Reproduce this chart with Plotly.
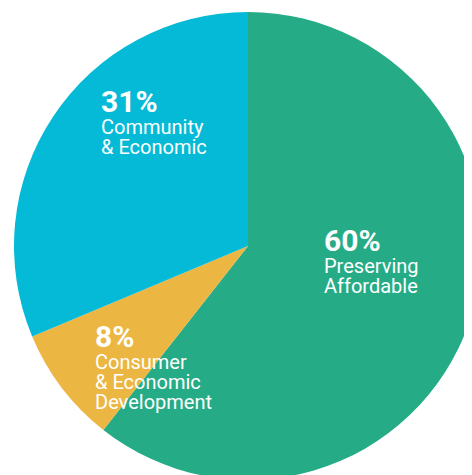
import plotly.graph_objects as go

labels = ["Preserving Affordable", "Consumer & Economic Development", "Community & Economic"]
values = [60, 8, 31]
colors = ["#25AC87", "#EBB642", "#04BAD7"]
label_lines = [["Preserving", "Affordable"], ["Consumer", "& Economic", "Development"], ["Community", "& Economic"]]

# page body has an 8px margin; figure coordinates are offset accordingly
OFF = 8
W, H = 474, 472

fig = go.Figure(go.Pie(
    labels=labels, values=values, sort=False, direction="clockwise", rotation=0,
    marker=dict(colors=colors, line=dict(width=0)),
    textinfo="none", hoverinfo="label+percent", showlegend=False,
    domain=dict(x=[6 / W, 1], y=[0, 1 - 4 / H]),
))

# text anchors in screenshot px: (left x, percent baseline y)
anchors = [(323, 250), (94, 346), (100, 111)]
ann = []
for (x, yb), v, lines in zip(anchors, values, label_lines):
    xf = (x - OFF - 1) / W
    ann.append(dict(x=xf, y=1 - (yb - 10 - OFF) / H, xref="paper", yref="paper",
                    xanchor="left", yanchor="middle", showarrow=False,
                    text=f"{v}%", font=dict(family="Roboto", size=30, color="white", weight=700)))
    for i, t in enumerate(lines):
        b = yb + 23 + 20 * i
        ann.append(dict(x=xf, y=1 - (b - 7 - OFF) / H, xref="paper", yref="paper",
                        xanchor="left", yanchor="middle", showarrow=False,
                        text=t, font=dict(family="Roboto", size=20, color="white")))

fig.update_layout(width=W, height=H, margin=dict(l=0, r=0, t=0, b=0),
                  paper_bgcolor="white", plot_bgcolor="white", annotations=ann)
fig.write_html("out.html")
